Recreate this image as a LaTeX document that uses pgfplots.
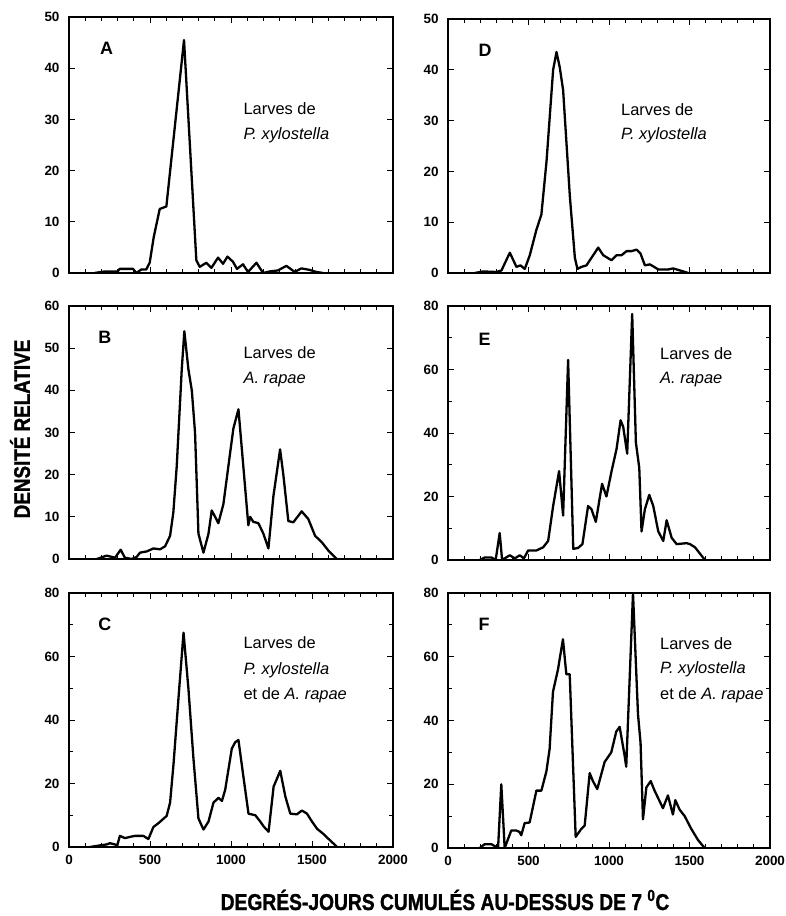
\documentclass[border=0pt]{standalone}
\usepackage{pgfplots}
\pgfplotsset{compat=1.18}
\usepackage{fontspec}
\setmainfont{Liberation Sans}
\newfontfamily\condb[FakeStretch=0.84, BoldFeatures={FakeBold=1.2}]{Liberation Sans}
\newcommand{\ticksfont}{\fontsize{13.5}{13.5}\selectfont\bfseries}
\newcommand{\annfont}{\fontsize{16.5}{20}\selectfont}
\newcommand{\letfont}{\fontsize{18}{20}\selectfont\bfseries}
\pgfplotsset{
  panel/.style={
    scale only axis, width=324bp,
    xmin=0, xmax=2000, ymin=0,
    xtick={0,500,1000,1500,2000}, minor x tick num=4,
    tick align=inside,
    major tick length=6bp, minor tick length=4bp,
    every tick/.style={black, line width=0.9pt},
    axis line style={line width=1.3pt},
    tick label style={font=\ticksfont},
    /pgf/number format/assume math mode=true,
    /pgf/number format/1000 sep={},
    yticklabel style={xshift=-6bp},
    xticklabel style={yshift=-5bp},
    anchor=south west,
  },
  curve/.style={black, line width=2.3bp, line join=round, mark=none},
  nolab/.style={xticklabels={}},
}
\begin{document}
\begin{tikzpicture}
\useasboundingbox (0,0) rectangle (786bp,916bp);
% ---------- A ----------
\begin{axis}[panel, nolab, at={(69bp,643bp)}, height=256bp, ymax=50, ytick={0,10,...,50}]
\addplot[curve] coordinates {(158,0)(220,0.3)(300,0.3)(313,0.8)(395,0.8)(416,0)(447,0.7)(477,0.7)(498,2)(523,7)(560,12.5)(601,13)(710,45.5)(786,2.5)(807,1.2)(848,2)(879,1)(920,3)(951,1.8)(978,3.2)(1012,2.2)(1037,0.8)(1074,1.7)(1105,0.2)(1157,2)(1198,0)(1239,0.3)(1290,0.5)(1342,1.4)(1393,0.2)(1434,0.9)(1486,0.6)(1527,0.2)(1568,0)};
\node[anchor=base west, font=\letfont] at (rel axis cs:0.085,0.852) {A};
\node[anchor=base west, font=\annfont] at (rel axis cs:0.528,0.621) {Larves de};
\node[anchor=base west, font=\annfont] at (rel axis cs:0.528,0.523) {\itshape P. xylostella};
\end{axis}
% ---------- B ----------
\begin{axis}[panel, nolab, at={(69bp,357bp)}, height=253bp, ymax=60, ytick={0,10,...,60}]
\addplot[curve] coordinates {(171,0)(233,0.8)(284,0.3)(319,2.2)(345,0.3)(387,0)(418,0.5)(438,1.5)(480,1.8)(521,2.5)(562,2.3)(593,3)(624,5.5)(644,11)(665,22)(696,45)(712,54)(737,45)(758,40)(778,30)(799,6)(830,1.5)(861,6)(881,11.5)(902,10)(922,8.5)(953,13)(994,25)(1015,31)(1046,35.5)(1076,22)(1107,8)(1118,10)(1138,8.8)(1169,8.5)(1200,6)(1231,2.5)(1262,15)(1303,26)(1323,20)(1354,9)(1385,8.7)(1436,11.3)(1477,9.5)(1519,5.5)(1560,4)(1601,2)(1653,0)};
\node[anchor=base west, font=\letfont] at (rel axis cs:0.08,0.853) {B};
\node[anchor=base west, font=\annfont] at (rel axis cs:0.528,0.793) {Larves de};
\node[anchor=base west, font=\annfont] at (rel axis cs:0.528,0.692) {\itshape A. rapae};
\end{axis}
% ---------- C ----------
\begin{axis}[panel, at={(69bp,69bp)}, height=254bp, ymax=80, ytick={0,20,...,80}, minor y tick num=1]
\addplot[curve] coordinates {(129,0)(191,0.5)(232,0.8)(253,1.2)(284,0.8)(298,0.5)(314,3.5)(345,2.8)(387,3.3)(407,3.5)(438,3.5)(459,3.5)(490,2.5)(521,6.3)(552,7.5)(603,9.8)(624,14)(645,26)(676,47)(707,67.5)(737,50)(768,28)(799,9)(830,5.5)(861,8)(892,14)(923,15.5)(944,14.5)(964,18)(1005,31)(1026,33)(1046,33.7)(1077,22)(1108,10.5)(1150,10)(1181,8)(1201,6.5)(1232,4.8)(1263,19)(1304,24)(1335,16)(1366,10.5)(1407,10.3)(1438,11.5)(1469,10.5)(1500,8)(1532,5.7)(1573,4)(1603,2.5)(1655,0)};
\node[anchor=base west, font=\letfont] at (rel axis cs:0.08,0.854) {C};
\node[anchor=base west, font=\annfont] at (rel axis cs:0.528,0.782) {Larves de};
\node[anchor=base west, font=\annfont] at (rel axis cs:0.528,0.681) {\itshape P. xylostella};
\node[anchor=base west, font=\annfont] at (rel axis cs:0.528,0.579) {et de \itshape A. rapae};
\end{axis}
% ---------- D ----------
\begin{axis}[panel, nolab, at={(448bp,643bp)}, width=322bp, height=254bp, ymax=50, ytick={0,10,...,50}]
\addplot[curve] coordinates {(166,0)(218,0.3)(301,0.2)(332,0.5)(384,4)(425,1.2)(450,1.5)(477,0.8)(508,3.5)(549,8.5)(580,11.5)(612,22)(653,40)(674,43.5)(694,40.5)(715,36)(757,15)(788,3)(804,0.8)(829,1.2)(860,1.5)(933,5)(964,3.5)(1016,2.5)(1047,3.5)(1078,3.5)(1109,4.3)(1140,4.3)(1171,4.6)(1196,3.8)(1223,1.5)(1254,1.7)(1275,1.3)(1306,0.7)(1368,0.7)(1399,0.9)(1430,0.6)(1493,0)};
\node[anchor=base west, font=\letfont] at (rel axis cs:0.084,0.854) {D};
\node[anchor=base west, font=\annfont] at (rel axis cs:0.527,0.622) {Larves de};
\node[anchor=base west, font=\annfont] at (rel axis cs:0.527,0.524) {\itshape P. xylostella};
\end{axis}
% ---------- E ----------
\begin{axis}[panel, nolab, at={(448bp,356bp)}, width=322bp, height=254bp, ymax=80, ytick={0,20,...,80}, minor y tick num=1]
\addplot[curve] coordinates {(197,0)(228,0.8)(270,0.8)(296,0)(321,8.5)(336,0)(384,1.5)(415,0.5)(446,1.5)(471,0.5)(498,3)(549,3)(591,4)(622,6)(653,17)(690,28)(715,14)(746,63)(778,3.5)(808,3.8)(835,5)(870,17)(891,16)(918,12)(957,24)(984,20)(1016,28)(1047,35)(1072,44)(1088,42)(1113,33.5)(1144,77.5)(1167,37)(1188,29)(1202,9)(1223,16)(1250,20.5)(1275,17)(1306,9)(1337,6)(1358,12.5)(1389,7)(1420,5)(1482,5.3)(1503,5)(1534,4)(1596,0)};
\node[anchor=base west, font=\letfont] at (rel axis cs:0.084,0.846) {E};
\node[anchor=base west, font=\annfont] at (rel axis cs:0.648,0.791) {Larves de};
\node[anchor=base west, font=\annfont] at (rel axis cs:0.648,0.696) {\itshape A. rapae};
\end{axis}
% ---------- F ----------
\begin{axis}[panel, at={(448bp,68bp)}, width=322bp, height=255bp, ymax=80, ytick={0,20,...,80}, minor y tick num=1]
\addplot[curve] coordinates {(197,0)(228,1.2)(269,1.2)(311,0)(331,20)(352,0)(393,5.5)(424,5.5)(445,5)(455,4)(476,7.8)(507,8)(549,18)(580,18)(611,24)(631,31)(652,49)(683,56)(714,65.5)(735,54.5)(756,54.5)(793,3.5)(828,6)(849,7)(880,23.5)(900,21)(927,18.5)(973,27)(1014,30)(1045,36.5)(1066,38)(1097,29)(1107,25.5)(1149,80)(1180,42)(1196,33)(1211,9)(1232,19)(1259,21)(1283,18)(1335,12.5)(1366,16.5)(1397,10.5)(1412,15)(1439,12)(1470,10)(1511,6)(1553,2.5)(1594,0)};
\node[anchor=base west, font=\letfont] at (rel axis cs:0.084,0.852) {F};
\node[anchor=base west, font=\annfont] at (rel axis cs:0.648,0.780) {Larves de};
\node[anchor=base west, font=\annfont] at (rel axis cs:0.648,0.685) {\itshape P. xylostella};
\node[anchor=base west, font=\annfont] at (rel axis cs:0.648,0.583) {et de \itshape A. rapae};
\end{axis}
% ---------- titles ----------
\node[rotate=90, anchor=center, font={\condb\fontsize{22.5}{22.5}\selectfont\bfseries}] at (20bp,487bp) {DENSITÉ RELATIVE};
\node[anchor=base, font={\condb\fontsize{23}{23}\selectfont\bfseries}] at (445bp,6bp) {DEGRÉS-JOURS CUMULÉS AU-DESSUS DE 7 \textsuperscript{0}C};
\end{tikzpicture}
\end{document}
